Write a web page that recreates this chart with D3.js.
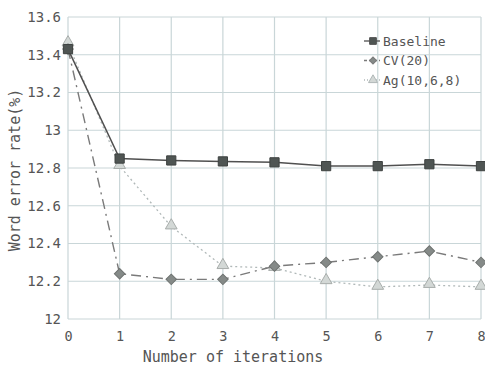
<!DOCTYPE html>
<html>
<head>
<meta charset="utf-8">
<script src="https://d3js.org/d3.v7.min.js"></script>
<style>
  body { margin: 0; background: #ffffff; }
  text { font-family: "DejaVu Sans Mono", monospace; fill: #555; }
</style>
</head>
<body>
<div id="chart"></div>
<script>
// data
var iterations = [0, 1, 2, 3, 4, 5, 6, 7, 8];
var baseline = [13.43, 12.85, 12.84, 12.835, 12.83, 12.81, 12.81, 12.82, 12.81];
var cv20 = [13.43, 12.24, 12.21, 12.21, 12.28, 12.30, 12.33, 12.36, 12.30];
var ag = [13.46, 12.81, 12.49, 12.28, 12.27, 12.20, 12.17, 12.18, 12.17];
var yTicks = [12, 12.2, 12.4, 12.6, 12.8, 13, 13.2, 13.4, 13.6];
var seriesNames = ["Baseline", "CV(20)", "Ag(10,6,8)"];

var width = 485, height = 369;
var margin = { left: 68, right: 4, top: 17, bottom: 50 };

var svg = d3.select("#chart").append("svg")
    .attr("width", width)
    .attr("height", height);

var x = d3.scaleLinear()
    .domain([0, 8])
    .range([margin.left, width - margin.right]);

var y = d3.scaleLinear()
    .domain([12, 13.6])
    .range([height - margin.bottom, margin.top]);

// grid lines
svg.append("g").selectAll("line")
    .data(yTicks).enter().append("line")
    .attr("x1", x(0)).attr("x2", x(8))
    .attr("y1", function(d) { return y(d); })
    .attr("y2", function(d) { return y(d); })
    .attr("stroke", "#c9d6d8")
    .attr("stroke-width", 1.2);

svg.append("g").selectAll("line")
    .data(iterations).enter().append("line")
    .attr("x1", function(d) { return x(d); })
    .attr("x2", function(d) { return x(d); })
    .attr("y1", y(12)).attr("y2", y(13.6))
    .attr("stroke", "#c9d6d8")
    .attr("stroke-width", 1.2);

// axes (labels only)
var yAxis = svg.append("g")
    .attr("transform", "translate(" + (margin.left - 4) + ",0)")
    .call(d3.axisLeft(y).tickValues(yTicks).tickSize(0).tickFormat(function(d) { return String(+d.toFixed(1)); }));
yAxis.select(".domain").remove();
yAxis.selectAll("text").attr("font-size", 14).attr("fill", "#555").style("font-family", "DejaVu Sans Mono, monospace");

var xAxis = svg.append("g")
    .attr("transform", "translate(0," + (y(12) + 9) + ")")
    .call(d3.axisBottom(x).tickValues(iterations).tickSize(0).tickFormat(d3.format("d")));
xAxis.select(".domain").remove();
xAxis.selectAll("text").attr("font-size", 13.5).attr("fill", "#555").style("font-family", "DejaVu Sans Mono, monospace");

// axis titles
svg.append("text")
    .attr("transform", "translate(20," + ((y(12) + y(13.6)) / 2 + 2) + ") rotate(-90)")
    .attr("text-anchor", "middle")
    .attr("font-size", 15)
    .text("Word error rate(%)");

svg.append("text")
    .attr("x", 233)
    .attr("y", 362)
    .attr("text-anchor", "middle")
    .attr("font-size", 15)
    .text("Number of iterations");

var line = d3.line()
    .x(function(d, i) { return x(iterations[i]); })
    .y(function(d) { return y(d); });

// lines
svg.append("path").datum(ag)
    .attr("d", line).attr("fill", "none")
    .attr("stroke", "#b0b8b8").attr("stroke-width", 1.3)
    .attr("stroke-dasharray", "2,3");

svg.append("path").datum(cv20)
    .attr("d", line).attr("fill", "none")
    .attr("stroke", "#7a7a7a").attr("stroke-width", 1.4)
    .attr("stroke-dasharray", "10,5,2,5");

svg.append("path").datum(baseline)
    .attr("d", line).attr("fill", "none")
    .attr("stroke", "#505050").attr("stroke-width", 1.5);

// markers
var sq = d3.symbol().type(d3.symbolSquare).size(85);
var dm = d3.symbol().type(d3.symbolSquare).size(55);
var tr = d3.symbol().type(d3.symbolTriangle).size(60);

svg.append("g").selectAll("path")
    .data(ag).enter().append("path")
    .attr("d", tr)
    .attr("transform", function(d, i) { return "translate(" + x(iterations[i]) + "," + (y(d) - 1) + ")"; })
    .attr("fill", "#d3d8d6").attr("stroke", "#a8adab").attr("stroke-width", 1);

svg.append("g").selectAll("path")
    .data(cv20).enter().append("path")
    .attr("d", dm)
    .attr("transform", function(d, i) { return "translate(" + x(iterations[i]) + "," + y(d) + ") rotate(45)"; })
    .attr("fill", "#858a88").attr("stroke", "#6e7270").attr("stroke-width", 1);

svg.append("g").selectAll("path")
    .data(baseline).enter().append("path")
    .attr("d", sq)
    .attr("transform", function(d, i) { return "translate(" + x(iterations[i]) + "," + y(d) + ")"; })
    .attr("fill", "#4f5553").attr("stroke", "#3e4241").attr("stroke-width", 1);

// legend
var legendX = 364, legendY = 41, legendStep = 19.5;
var legendSym = [
    d3.symbol().type(d3.symbolSquare).size(45),
    d3.symbol().type(d3.symbolSquare).size(25),
    d3.symbol().type(d3.symbolTriangle).size(35)
];
var legendRot = [0, 45, 0];
var legendFill = ["#4f5553", "#858a88", "#d3d8d6"];
var legendStroke = ["#505050", "#7a7a7a", "#b0b8b8"];
var legendDash = [null, "3,2", "1,2"];

var legend = svg.append("g").selectAll("g")
    .data(seriesNames).enter().append("g")
    .attr("transform", function(d, i) { return "translate(" + legendX + "," + (legendY + i * legendStep) + ")"; });

legend.append("line")
    .attr("x1", 0).attr("x2", 16)
    .attr("stroke", function(d, i) { return legendStroke[i]; })
    .attr("stroke-width", 1.3)
    .attr("stroke-dasharray", function(d, i) { return legendDash[i]; });

legend.append("path")
    .attr("d", function(d, i) { return legendSym[i](); })
    .attr("transform", function(d, i) { return "translate(9,0) rotate(" + legendRot[i] + ")"; })
    .attr("fill", function(d, i) { return legendFill[i]; })
    .attr("stroke", function(d, i) { return legendStroke[i]; });

legend.append("text")
    .attr("x", 19)
    .attr("dy", "0.35em")
    .attr("font-size", 13)
    .text(function(d) { return d; });
</script>
</body>
</html>
